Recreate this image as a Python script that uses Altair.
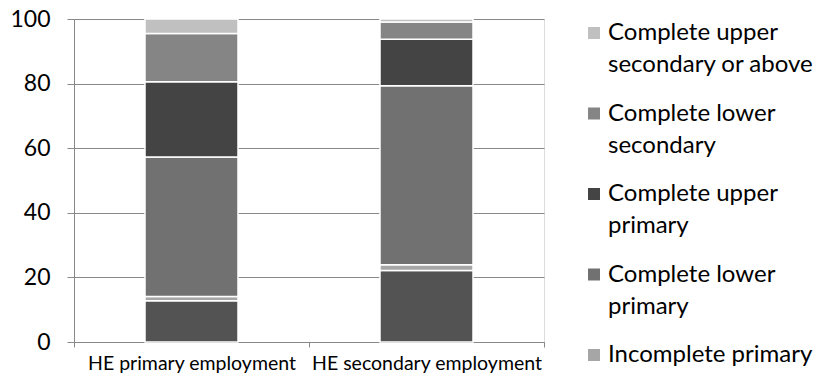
import altair as alt
import pandas as pd

# Education levels, bottom of the stack first
levels = [
    "No education",
    "Incomplete primary",
    "Complete lower primary",
    "Complete upper primary",
    "Complete lower secondary",
    "Complete upper secondary or above",
]
colors = ["#535353", "#a6a6a6", "#717171", "#444444", "#858585", "#c0c0c0"]

groups = ["HE primary employment", "HE secondary employment"]
primary_share = [12.8, 1.3, 43.2, 23.3, 14.9, 4.5]
secondary_share = [22.1, 1.8, 55.4, 14.4, 5.4, 0.9]

# Legend entries (top to bottom), split over two lines where wrapped
legend_names = [
    "Complete upper secondary or above",
    "Complete lower secondary",
    "Complete upper primary",
    "Complete lower primary",
    "Incomplete primary",
]
legend_line1 = ["Complete upper", "Complete lower", "Complete upper", "Complete lower", "Incomplete primary"]
legend_line2 = ["secondary or above", "secondary", "primary", "primary", ""]

rows = []
for g, vals in zip(groups, [primary_share, secondary_share]):
    for i, (lvl, v) in enumerate(zip(levels, vals)):
        rows.append({"group": g, "level": lvl, "value": v, "order": i})
df = pd.DataFrame(rows)

legend_df = pd.DataFrame({
    "level": legend_names,
    "line1": legend_line1,
    "line2": legend_line2,
    "pos": list(range(len(legend_names))),
})

FONT = "Lato"
color_scale = alt.Scale(domain=levels, range=colors)

bars = alt.Chart(df).mark_bar(size=93, stroke="white", strokeWidth=1.5).encode(
    x=alt.X(
        "group:N",
        sort=groups,
        title=None,
        scale=alt.Scale(paddingInner=0, paddingOuter=0),
        axis=alt.Axis(
            labelAngle=0,
            labelFont=FONT,
            labelFontSize=19.5,
            labelColor="#000000",
            labelPadding=7,
            labelLimit=400,
            tickBand="extent",
            tickSize=5,
            tickColor="#888888",
            domainColor="#888888",
            domainWidth=1,
            grid=False,
        ),
    ),
    y=alt.Y(
        "value:Q",
        stack="zero",
        title=None,
        scale=alt.Scale(domain=[0, 100]),
        axis=alt.Axis(
            values=[0, 20, 40, 60, 80, 100],
            labelFont=FONT,
            labelFontSize=23,
            labelColor="#000000",
            labelPadding=17,
            tickSize=7,
            tickColor="#888888",
            domainColor="#888888",
            gridColor="#888888",
            gridWidth=1,
            minExtent=69,
        ),
    ),
    color=alt.Color("level:N", scale=color_scale, legend=None),
    order=alt.Order("order:Q"),
)

legend_y = alt.Y(
    "pos:Q",
    axis=None,
    scale=alt.Scale(domain=[0, 4], range=[14, 336], zero=False, nice=False),
)

legend_marks = alt.Chart(legend_df).mark_square(size=144, opacity=1).encode(
    x=alt.value(520),
    y=legend_y,
    color=alt.Color("level:N", scale=color_scale, legend=None),
)

legend_text1 = alt.Chart(legend_df).mark_text(
    align="left", baseline="middle", font=FONT, fontSize=24, color="#000000"
).encode(x=alt.value(534), y=legend_y, text="line1:N")

legend_text2 = alt.Chart(legend_df).mark_text(
    align="left", baseline="middle", font=FONT, fontSize=24, color="#000000", dy=32
).encode(x=alt.value(534), y=legend_y, text="line2:N")

chart = (
    alt.layer(bars, legend_marks, legend_text1, legend_text2)
    .resolve_scale(y="independent")
    .properties(
        width=470,
        height=323,
        padding={"left": 5, "top": 8, "right": 0, "bottom": 0},
    )
    .configure_view(stroke=None)
    .configure(background="white")
)

chart.save("out.html", embed_options={"renderer": "svg", "actions": False})
